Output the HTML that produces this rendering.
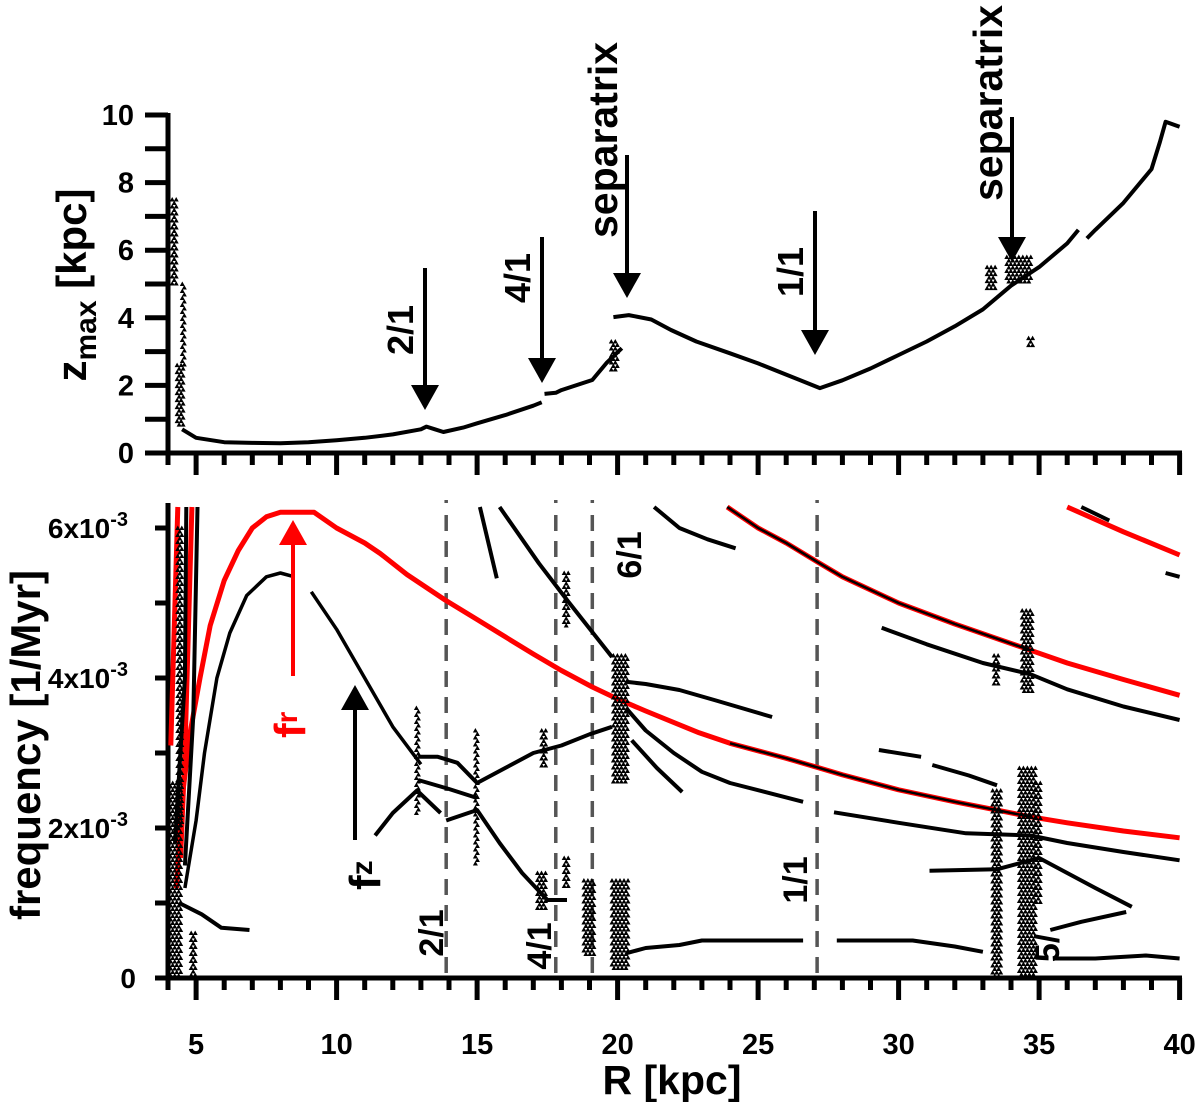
<!DOCTYPE html>
<html><head><meta charset="utf-8"><style>
html,body{margin:0;padding:0;background:#fff;}
svg{display:block;font-family:"Liberation Sans",Arial,sans-serif;font-weight:bold;}
</style></head><body>
<svg id="chart" width="1200" height="1102" viewBox="0 0 1200 1102" xmlns="http://www.w3.org/2000/svg">
<g id="topPanel"></g>
<g id="botPanel"></g>
<g id="ann"></g>
</svg>
<script>
// ---------- data ----------
const xTicksMajor = [5,10,15,20,25,30,35,40];
const zTicks = [0,2,4,6,8,10];
const fTicks = [0,2,4,6];
const fTickLabels = ["0","2x10","4x10","6x10"];
// top panel: z_max curve segments [R, z]
const zmaxSeg1 = [[4.5,0.7],[5,0.45],[6,0.32],[7,0.3],[8,0.29],[9,0.32],[10,0.38],[11,0.45],[12,0.55],[13,0.7],[13.2,0.78],[13.5,0.7],[13.8,0.62],[14.5,0.75],[15,0.88],[16,1.12],[17,1.4],[17.3,1.5]];
const zmaxSeg2 = [[17.4,1.75],[17.8,1.78],[18,1.86],[19.1,2.16],[19.6,2.66],[20.15,3.1]];
const zmaxSeg3 = [[19.85,4.02],[20.4,4.08],[21.2,3.95],[21.9,3.64],[22.8,3.3],[24,2.95],[25,2.65],[26,2.32],[27.2,1.92],[28,2.15],[29,2.5],[30,2.9],[31,3.3],[32,3.75],[33,4.25],[34,4.95],[35,5.5],[36,6.2],[36.4,6.6]];
const zmaxSeg4 = [[36.7,6.35],[37,6.6],[38,7.4],[39,8.4],[39.3,9.2],[39.5,9.8],[40,9.65]];
// top panel scatter clusters [R, zmin, zmax, widthKpc]
const zmaxClusters = [[4.25,5.0,7.5,0.2],[4.45,0.8,2.6,0.25],[4.55,2.6,5.0,0.08],[19.9,2.4,3.3,0.25],[33.3,4.8,5.5,0.3],[34.3,5.0,5.8,0.9],[34.7,3.1,3.4,0.15]];
// bottom panel (frequency in 1e-3 /Myr)
const frMain = [[4.3,1.2],[4.5,2.4],[4.8,3.3],[5.14,4],[5.5,4.7],[6,5.3],[6.5,5.7],[7,6.0],[7.5,6.15],[8,6.21],[9.2,6.21],[10,6.0],[11,5.8],[11.55,5.66],[12.5,5.38],[13.86,5.04],[15,4.78],[16,4.55],[17,4.32],[18,4.1],[19.1,3.88],[20,3.72],[21,3.56],[22.9,3.27],[24,3.13],[26,2.93],[27.1,2.81],[28,2.71],[30,2.51],[32,2.35],[34.7,2.15],[36,2.07],[38,1.96],[40,1.87]];
const frSecond = [[23.9,6.28],[25,6.0],[26,5.8],[27.1,5.55],[28,5.35],[30,5.0],[32,4.72],[34.7,4.37],[36,4.2],[38,3.98],[40,3.77]];
const frThird = [[36,6.28],[38,5.95],[40,5.64]];
const frSteep1 = [[4.1,3.1],[4.35,6.28]];
const frSteep2 = [[4.45,1.6],[4.6,3],[4.85,6.28]];
const fzMain1 = [[4.6,1.2],[5.0,2.1],[5.3,3.0],[5.74,4],[6.2,4.6],[6.8,5.1],[7.5,5.35],[8,5.4],[8.5,5.35]];
const fzMain2 = [[9.1,5.15],[10,4.65],[11,4.0],[12,3.35],[13,2.85]];
const blackSeries = [
 [[4.25,1.8],[4.6,4],[4.65,6.28]],
 [[4.6,1.5],[4.9,3.5],[5.05,6.28]],
 [[4.4,1.0],[5.2,0.85],[5.9,0.67],[6.9,0.64]],
 [[11.37,1.9],[12,2.2],[12.86,2.5],[13.7,2.2]],
 [[12.9,2.95],[13.6,2.95],[14.3,2.87],[15,2.6],[16,2.8],[17,3.0],[18,3.1],[19,3.25],[19.8,3.35]],
 [[12.9,2.64],[14,2.52],[15,2.4]],
 [[13.9,2.1],[15,2.24],[15.8,1.8],[16.6,1.4],[17.5,1.04],[18.2,1.04]],
 [[15.1,6.28],[15.7,5.33]],
 [[15.8,6.28],[17.2,5.53],[18.2,5.04],[19.8,4.28]],
 [[20.3,3.95],[21,3.92],[22.2,3.84],[23.5,3.7],[25.5,3.48]],
 [[20.3,3.6],[21,3.3],[22,3.0],[23,2.75],[24,2.6],[26.6,2.35]],
 [[20.5,3.17],[21.4,2.8],[22.3,2.48]],
 [[21.3,6.28],[22.2,6.0],[23.2,5.85],[24.2,5.73]],
 [[29.4,4.67],[31,4.45],[33,4.2],[34.7,4.05],[36,3.85],[38,3.62],[40,3.44]],
 [[29.3,3.04],[30.8,2.95]],
 [[31.2,2.84],[32.5,2.7],[33.5,2.57]],
 [[27.7,2.21],[30,2.07],[32.4,1.93],[34.7,1.9],[36,1.8],[38,1.68],[40,1.57]],
 [[31.1,1.43],[33.5,1.45],[35,1.6],[36,1.4],[37,1.2],[38.3,0.95]],
 [[35.4,0.64],[36.5,0.75],[38.1,0.88]],
 [[20.3,0.33],[21,0.4],[22.2,0.44],[23,0.5],[26.6,0.5]],
 [[27.8,0.5],[30.5,0.5],[32,0.42],[33,0.35]],
 [[35.5,0.26],[37,0.26],[38.8,0.3],[40,0.26]],
 [[36.5,6.28],[37.5,6.1]],[[39.5,5.4],[40,5.35]]
];
const frOverlay = [[[23.9,6.28],[25,6.0],[26,5.8],[27.1,5.55],[28,5.35],[30,5.0],[32,4.72],[34.7,4.37]],[[24,3.13],[26,2.93],[27.1,2.81],[28,2.71],[30,2.51],[32,2.35],[34.7,2.15]]];
// bottom clusters [R, fmin, fmax, widthKpc]
const fClusters = [[4.25,0,2.6,0.45],[4.45,2.0,6.0,0.2],[4.9,0,0.6,0.15],[12.9,2.2,3.6,0.12],[15.0,1.5,3.3,0.12],[17.4,2.8,3.3,0.2],[17.3,0.9,1.4,0.3],[18.2,1.2,1.6,0.2],[18.2,4.7,5.4,0.2],[19.0,0.3,1.3,0.4],[20.1,0.1,1.3,0.6],[20.1,2.6,4.3,0.5],[33.5,0,2.5,0.3],[33.5,3.9,4.3,0.2],[34.6,0,2.8,0.6],[34.6,3.8,4.9,0.4],[35.0,1.0,2.6,0.2]];
const dashLines = [13.9,17.8,19.1,27.1];

// ---------- scales ----------
const X = r => 168 + (r-4)*28.1;
const YT = z => 453 - z*33.8;
const YB = f => 978 - f*75;
const NS = "http://www.w3.org/2000/svg";
function mk(tag, attrs, parent){const e=document.createElementNS(NS,tag);for(const k in attrs)e.setAttribute(k,attrs[k]);parent.appendChild(e);return e;}
const topG = document.getElementById('topPanel'), botG = document.getElementById('botPanel');

function line(pts, Y, color, w, parent, name){
  const d = pts.map((p,i)=>(i?'L':'M')+X(p[0]).toFixed(1)+' '+Y(p[1]).toFixed(1)).join(' ');
  const e = mk('path',{d:d,fill:'none',stroke:color,'stroke-width':w,'stroke-linejoin':'round'},parent);
  
  
}
function cluster(c, Y, parent, name){
  const g = mk('g',{fill:'#000'},parent);
  
  
  const x0 = X(c[0]-c[3]/2), x1 = X(c[0]+c[3]/2);
  const y0 = Y(c[2]), y1 = Y(c[1]);
  let row=0, d='';
  for(let y=y0; y<=y1; y+=3.5, row++){
    for(let x=x0+(row%2)*2; x<=x1; x+=4){
      d += `M${x.toFixed(1)} ${(y-2.5).toFixed(1)} l2.5 4.5 h-5 z`;
    }
  }
  mk('path',{d:d},g);
}

// ---------- axes ----------
function xAxis(parent, yAx, labels){
  mk('line',{x1:160,y1:yAx,x2:1182,y2:yAx,stroke:'#000','stroke-width':5},parent);
  for(let r=4;r<=40;r++){
    const major = r%5===0;
    mk('line',{x1:X(r),y1:yAx,x2:X(r),y2:yAx+(major?22:12),stroke:'#000','stroke-width':5},parent);
  }
  if(labels){
    xTicksMajor.forEach(r=>{const t=mk('text',{x:X(r),y:1054,'font-size':29,'text-anchor':'middle'},parent);t.textContent=r;
      
      });
  }
}
// top
mk('line',{x1:168,y1:113,x2:168,y2:455,stroke:'#000','stroke-width':5},topG);
for(let z=0;z<=10;z++){mk('line',{x1:145,y1:YT(z),x2:168,y2:YT(z),stroke:'#000','stroke-width':5},topG);}
zTicks.forEach(z=>{const t=mk('text',{x:134,y:YT(z)+10,'font-size':29,'text-anchor':'end'},topG);t.textContent=z;
  
  });
xAxis(topG,453,false);
// bottom
mk('line',{x1:168,y1:503,x2:168,y2:980,stroke:'#000','stroke-width':5},botG);
for(let f=0;f<=6;f++){mk('line',{x1:155,y1:YB(f),x2:168,y2:YB(f),stroke:'#000','stroke-width':5},botG);}
fTicks.forEach((f,i)=>{
  const t=mk('text',{x:(f===0?136:128),y:YB(f)+10,'font-size':28,'text-anchor':'end'},botG);
  
  
  if(f===0){t.textContent='0';}else{t.textContent=fTickLabels[i];const s=mk('tspan',{dy:-12,'font-size':20},t);s.textContent='-3';}
});
xAxis(botG,978,true);

// dashed resonance lines
dashLines.forEach(r=>{
  const e=mk('line',{x1:X(r),y1:500,x2:X(r),y2:978,stroke:'#555','stroke-width':3.5,'stroke-dasharray':'3 12 16 10 16 10 16 10 16 10 16 10 16 10 16 10 16 10 16 10 16 10 16 10 16 10 16 10 16 10 16 10 16 10 16 10 16 10 16 10 16 10 16 10 16 10 16 10 16 10 16 10'},botG);
  
  
});

// top data
[zmaxSeg1,zmaxSeg2,zmaxSeg3,zmaxSeg4].forEach(s=>line(s,YT,'#000',4,topG,'zmax-curve'));
zmaxClusters.forEach(c=>cluster(c,YT,topG,'zmax-scatter'));

// bottom data
[frMain,frSecond,frThird,frSteep1,frSteep2].forEach(s=>line(s,YB,'#f00',5,botG,'fr-series'));
fClusters.forEach(c=>cluster(c,YB,botG,'freq-scatter'));
[fzMain1,fzMain2].forEach(s=>line(s,YB,'#000',3.5,botG,'fz-series'));
blackSeries.forEach(s=>line(s,YB,'#000',4,botG,'freq-branch'));
frOverlay.forEach(s=>line(s,YB,'#000',2.5,botG,'fr-overlay'));
</script>
<script>
(function(){
const ann=document.getElementById('ann');const NS="http://www.w3.org/2000/svg";
function mk(tag,a,p){const e=document.createElementNS(NS,tag);for(const k in a)e.setAttribute(k,a[k]);p.appendChild(e);return e;}
function arrow(x,y0,y1,color,name){
  const g=mk('g',{},ann);
  
  
  const dir = y1>y0?1:-1;
  mk('line',{x1:x,y1:y0,x2:x,y2:y1-dir*24,stroke:color,'stroke-width':4},g);
  mk('path',{d:`M${x-14} ${y1-dir*25} L${x+14} ${y1-dir*25} L${x} ${y1} Z`,fill:color},g);
}
function vtext(x,y,str,size,color,name){
  const t=mk('text',{x:0,y:0,'font-size':size,fill:color,'text-anchor':'middle',transform:`translate(${x} ${y}) rotate(-90)`},ann);
  t.textContent=str;
  
  
  return t;
}
arrow(425,268,410,'#000','arrow-2-1');
arrow(542,237,383,'#000','arrow-4-1');
arrow(627,155,298,'#000','arrow-separatrix-1');
arrow(815,211,355,'#000','arrow-1-1');
arrow(1012,117,262,'#000','arrow-separatrix-2');
vtext(413,330,'2/1',36,'#000','label-2-1');
vtext(530,278,'4/1',36,'#000','label-4-1');
vtext(617,140,'separatrix',41,'#000','label-separatrix-1');
vtext(803,272,'1/1',36,'#000','label-1-1');
vtext(1002,103,'separatrix',41,'#000','label-separatrix-2');
// bottom labels
vtext(443,933,'2/1',34,'#000','res-label-2-1');
vtext(551,946,'4/1',34,'#000','res-label-4-1');
vtext(641,555,'6/1',34,'#000','res-label-6-1');
vtext(807,880,'1/1',34,'#000','res-label-1-1');
vtext(1059,948,'5/',34,'#000','res-label-5');
arrow(293,676,520,'#f00','fr-arrow');
arrow(355,840,685,'#000','fz-arrow');
const fr=mk('text',{x:0,y:0,'font-size':44,fill:'#f00',transform:'translate(305 738) rotate(-90)'},ann);


fr.textContent='f';const s1=mk('tspan',{dy:-8,'font-size':30},fr);s1.textContent='r';
const fz=mk('text',{x:0,y:0,'font-size':44,fill:'#000',transform:'translate(380 890) rotate(-90)'},ann);


fz.textContent='f';const s2=mk('tspan',{dy:-8,'font-size':30},fz);s2.textContent='z';
// axis titles
const zt=mk('text',{x:0,y:0,'font-size':42,'text-anchor':'middle',transform:'translate(86 285) rotate(-90)'},ann);


zt.textContent='z';const zs=mk('tspan',{dy:10,'font-size':30},zt);zs.textContent='max';const zr=mk('tspan',{dy:-10},zt);zr.textContent=' [kpc]';
const ft=mk('text',{x:0,y:0,'font-size':42,'text-anchor':'middle',transform:'translate(40 745) rotate(-90)'},ann);


ft.textContent='frequency [1/Myr]';
const xt=mk('text',{x:672,y:1094,'font-size':41,'text-anchor':'middle'},ann);


xt.textContent='R [kpc]';
})();
</script>
</body></html>
